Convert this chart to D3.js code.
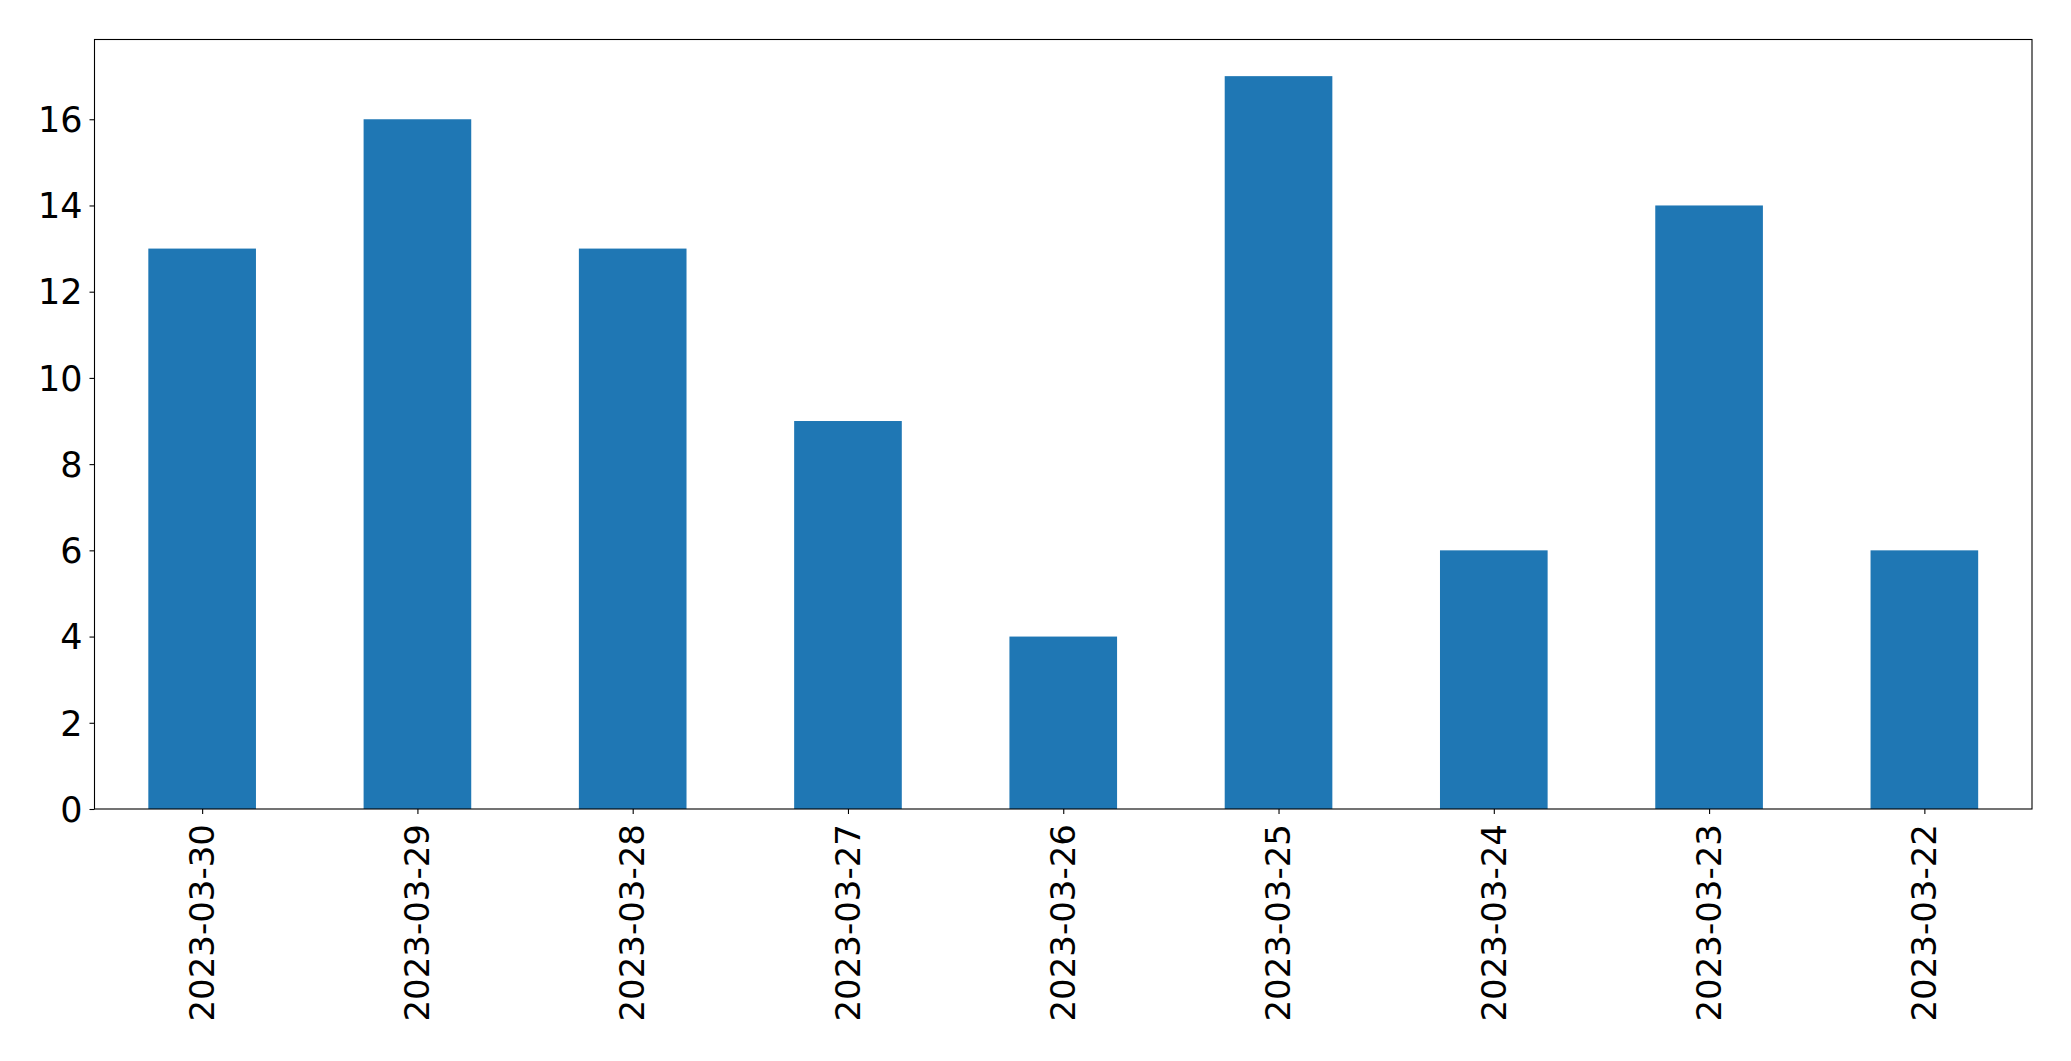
<!DOCTYPE html>
<html><head><meta charset="utf-8">
<script src="https://cdn.jsdelivr.net/npm/d3@7"></script>
<style>body{margin:0;background:#fff}svg{display:block}</style>
</head><body>
<script>
const categories = ["2023-03-30","2023-03-29","2023-03-28","2023-03-27","2023-03-26","2023-03-25","2023-03-24","2023-03-23","2023-03-22"];
const values = [13,16,13,9,4,17,6,14,6];
const yTicks = [0,2,4,6,8,10,12,14,16];

const W = 2071, H = 1061;
const m = {left: 94.5, right: 2032, top: 39.5, bottom: 809};
const svg = d3.select("body").append("svg").attr("width", W).attr("height", H);

const x = d3.scaleLinear().domain([-0.5, categories.length - 0.5]).range([m.left, m.right]);
const y = d3.scaleLinear().domain([0, d3.max(values) * 1.05]).range([m.bottom, m.top]);

svg.append("g").selectAll("rect").data(values).join("rect")
  .attr("x", (d, i) => x(i - 0.25))
  .attr("width", (d, i) => x(i + 0.25) - x(i - 0.25))
  .attr("y", d => y(d))
  .attr("height", d => y(0) - y(d))
  .attr("fill", "#1f77b4");

const font = "'DejaVu Sans', sans-serif";
const fs = 34;

const yAxis = svg.append("g").attr("transform", `translate(${m.left},0)`)
  .call(d3.axisLeft(y).tickValues(yTicks).tickSize(5).tickPadding(7).tickFormat(d3.format("d")));
yAxis.select(".domain").remove();
yAxis.selectAll("line").attr("stroke", "#000").attr("stroke-width", 1.1);
yAxis.selectAll("text").attr("font-family", font).attr("font-size", 35).attr("fill", "#000").attr("dy", "0.35em");

const xAxis = svg.append("g").attr("transform", `translate(0,${m.bottom})`)
  .call(d3.axisBottom(x).tickValues(d3.range(categories.length)).tickSize(5).tickFormat(i => categories[i]));
xAxis.select(".domain").remove();
xAxis.selectAll("line").attr("stroke", "#000").attr("stroke-width", 1.1);
xAxis.selectAll("text")
  .attr("font-family", font).attr("font-size", fs).attr("fill", "#000")
  .attr("text-anchor", "end")
  .attr("transform", "translate(0,15) rotate(-90)")
  .attr("x", 0).attr("y", 0).attr("dy", "0.33em");

svg.append("rect").attr("x", m.left).attr("y", m.top)
  .attr("width", m.right - m.left).attr("height", m.bottom - m.top)
  .attr("fill", "none").attr("stroke", "#000").attr("stroke-width", 1.1);
</script>
</body></html>
